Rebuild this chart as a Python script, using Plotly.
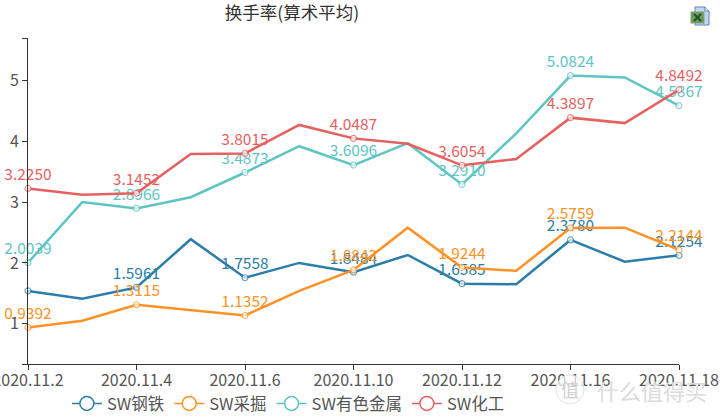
import base64
import plotly.graph_objects as go

dates = ["2020.11.2", "2020.11.3", "2020.11.4", "2020.11.5", "2020.11.6", "2020.11.9", "2020.11.10",
         "2020.11.11", "2020.11.12", "2020.11.13", "2020.11.16", "2020.11.17", "2020.11.18"]
shown_dates = ["2020.11.2", "2020.11.4", "2020.11.6", "2020.11.10", "2020.11.12", "2020.11.16", "2020.11.18"]

steel = [1.54, 1.41, 1.5961, 2.39, 1.7558, 2.00, 1.8484, 2.13, 1.6585, 1.65, 2.3780, 2.02, 2.1254]
mining = [0.9392, 1.05, 1.3115, 1.22, 1.1352, 1.54, 1.8843, 2.58, 1.9244, 1.87, 2.5759, 2.58, 2.2144]
metals = [2.0039, 3.00, 2.8966, 3.08, 3.4873, 3.92, 3.6096, 3.97, 3.2910, 4.13, 5.0824, 5.05, 4.5867]
chem = [3.2250, 3.12, 3.1452, 3.79, 3.8015, 4.27, 4.0487, 3.96, 3.6054, 3.71, 4.3897, 4.30, 4.8492]

names = ["SW钢铁", "SW采掘", "SW有色金属", "SW化工"]
colors = ["#2b7ea8", "#ff9226", "#5fc5c4", "#e5615f"]
series = [steel, mining, metals, chem]
unlabelled = {"SW钢铁": ["2020.11.2"]}

y_ticks = [0.337, 1, 2, 3, 4, 5, 5.7]
y_labels = ["", "1", "2", "3", "4", "5", ""]

FONT = "Noto Sans CJK SC, Open Sans, sans-serif"
fig = go.Figure()
for name, color, vals in zip(names, colors, series):
    marked = [d in shown_dates for d in dates]
    skip = unlabelled.get(name, [])
    fig.add_trace(go.Scatter(
        x=dates, y=vals, name=name, mode="lines+markers+text", showlegend=False,
        line=dict(color=color, width=2.5),
        marker=dict(size=[6 if s else 0 for s in marked], color="white",
                    line=dict(color=color, width=1.2)),
        text=[f"{v:.4f}" if s and d not in skip else "" for v, s, d in zip(vals, marked, dates)],
        textposition="top center",
        textfont=dict(color=color, size=15.5, family=FONT),
        cliponaxis=False,
    ))
for name, color in zip(names, colors):
    fig.add_trace(go.Scatter(
        x=[None], y=[None], name=name, mode="lines+markers",
        line=dict(color=color, width=1.5),
        marker=dict(size=14, color="white", line=dict(color=color, width=1.5)),
    ))

icon = ('<svg xmlns="http://www.w3.org/2000/svg" width="20" height="20" viewBox="0 0 20 20">'
        '<path d="M5 1H15L19 5V19H5Z" fill="#c6d5ee" stroke="#5e82c4"/>'
        '<path d="M15 1V5H19" fill="#eef3fb" stroke="#5e82c4"/>'
        '<rect x="1" y="6" width="13" height="11" fill="#6f9c5c" stroke="#7f9f70"/>'
        '<path d="M4 8L11 15M11 8L4 15" stroke="#24502a" stroke-width="2"/></svg>')
icon_uri = "data:image/svg+xml;base64," + base64.b64encode(icon.encode()).decode()

fig.update_layout(
    width=720, height=416, autosize=False,
    margin=dict(l=28, r=41, t=38, b=52, autoexpand=False),
    paper_bgcolor="white", plot_bgcolor="white",
    font=dict(family=FONT, color="#555555"),
    title=dict(text="换手率(算术平均)", x=292/720, xanchor="center", y=0.968, yanchor="middle",
               font=dict(size=17.5, color="#333333", family=FONT)),
    xaxis=dict(type="category", categoryorder="array", categoryarray=dates, range=[0, 12],
               tickmode="array", tickvals=shown_dates, ticktext=shown_dates,
               showgrid=False, zeroline=False, showline=True, linecolor="#333333", linewidth=1,
               ticks="outside", ticklen=5, tickcolor="#333333", ticklabelstandoff=-3,
               tickangle=0, tickfont=dict(size=16, color="#555555")),
    yaxis=dict(range=[y_ticks[0], y_ticks[-1]], tickmode="array", tickvals=y_ticks, ticktext=y_labels,
               showgrid=False, zeroline=False, showline=True, linecolor="#333333", linewidth=1,
               ticks="outside", ticklen=5, tickcolor="#333333", tickfont=dict(size=16, color="#555555")),
    legend=dict(orientation="h", x=288/720, xanchor="center", y=-0.068, yanchor="top",
                font=dict(size=16.5, color="#555555"), bgcolor="rgba(0,0,0,0)"),
    images=[dict(source=icon_uri, xref="paper", yref="paper", x=(690-28)/651, y=1 + 32/326,
                 sizex=20/651, sizey=20/326, xanchor="left", yanchor="top", layer="above")],
    annotations=[
        dict(text="值", xref="paper", yref="paper", x=(570-28)/651, y=-(389-364)/326, showarrow=False,
             xanchor="center", yanchor="middle",
             font=dict(size=18, color="#d0d0d0", family=FONT)),
        dict(text="什么值得买", xref="paper", yref="paper", x=(652-28)/651, y=-(390-364)/326, showarrow=False,
             xanchor="center", yanchor="middle",
             font=dict(size=22, color="#dcdcdc", family=FONT)),
    ],
    shapes=[dict(type="circle", xref="paper", yref="paper",
                 x0=(556-28)/651, x1=(584-28)/651, y0=-(404-364)/326, y1=-(375-364)/326,
                 line=dict(color="#e2e2e2", width=1), fillcolor="rgba(255,255,255,0.7)", layer="above")],
)
fig.write_html("out.html", config=dict(displayModeBar=False),
               post_script="document.body.style.margin='0';document.documentElement.style.overflow='hidden';")
